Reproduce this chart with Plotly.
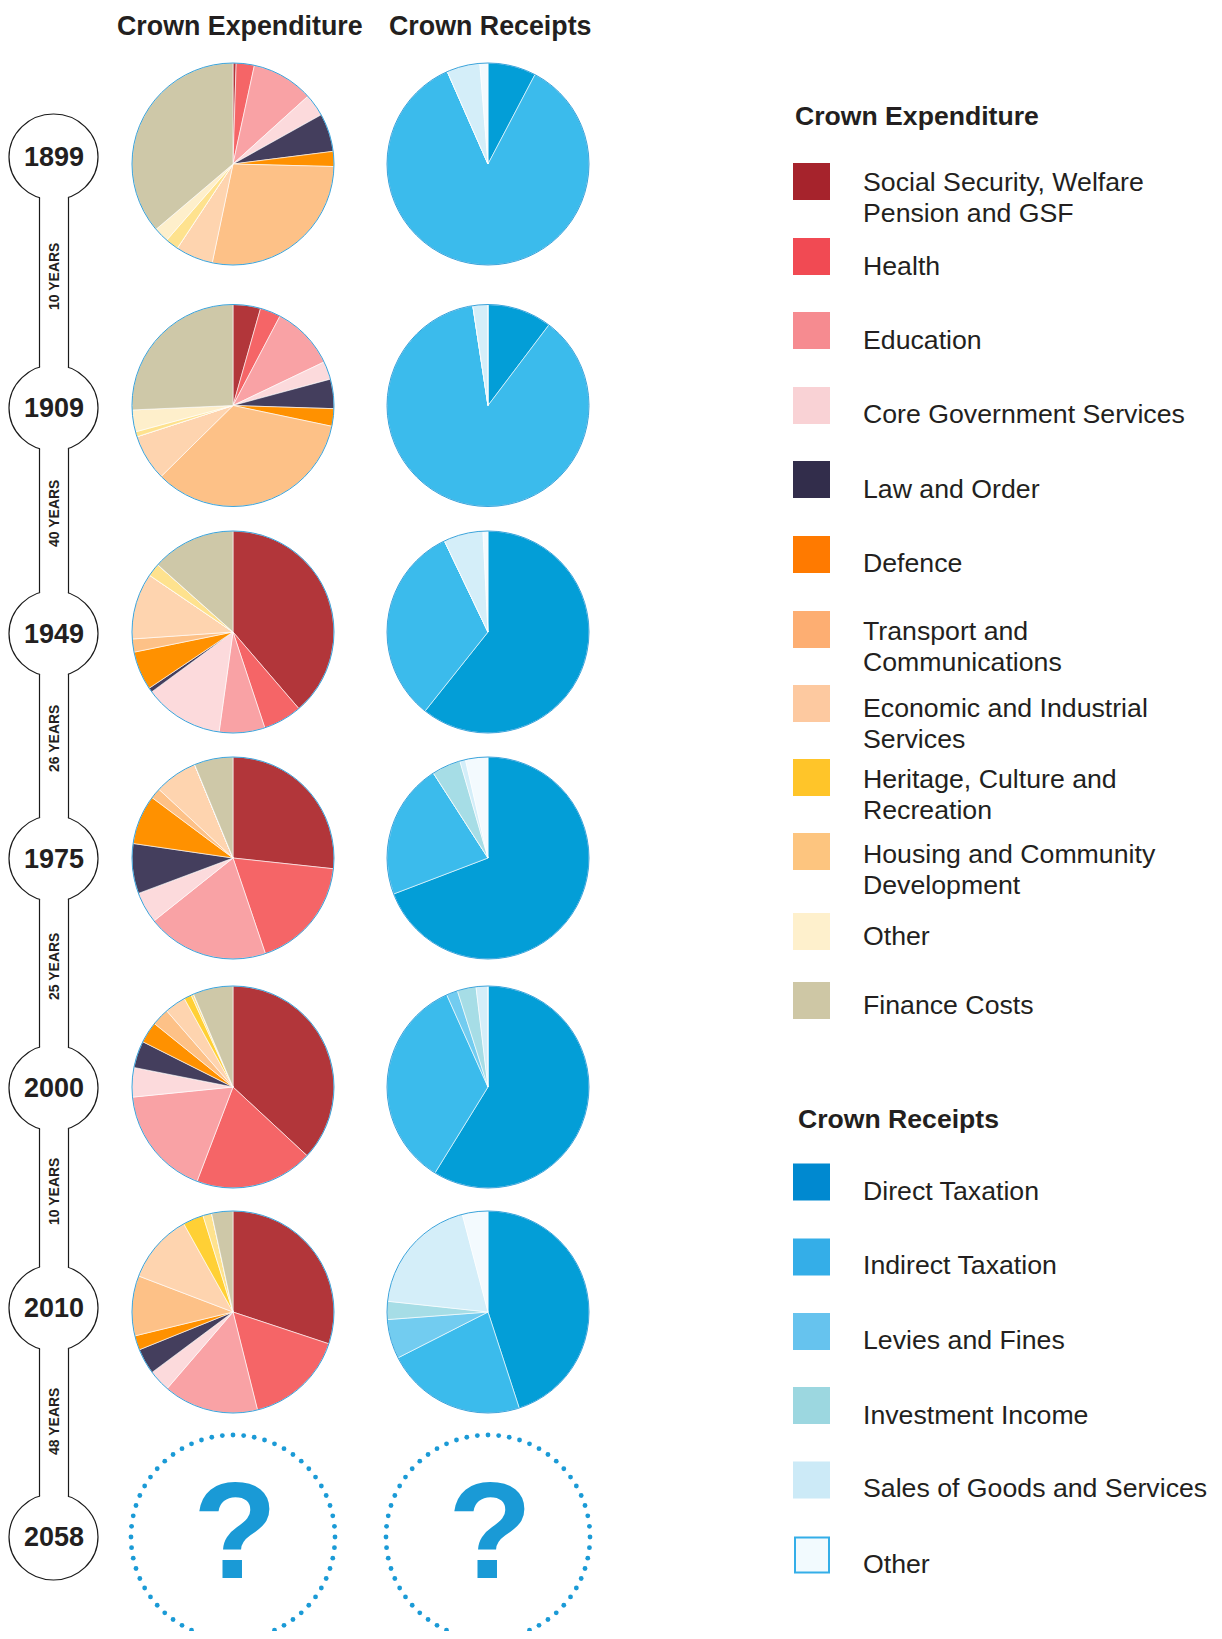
import math
import plotly.graph_objects as go

# ---------------- data ----------------
years = ["1899", "1909", "1949", "1975", "2000", "2010"]
future_year = "2058"
intervals = ["10 YEARS", "40 YEARS", "26 YEARS", "25 YEARS", "10 YEARS", "48 YEARS"]

exp_categories = [
    "Social Security, Welfare<br>Pension and GSF", "Health", "Education",
    "Core Government Services", "Law and Order", "Defence",
    "Transport and<br>Communications", "Economic and Industrial<br>Services",
    "Heritage, Culture and<br>Recreation", "Housing and Community<br>Development",
    "Other", "Finance Costs",
]
rec_categories = [
    "Direct Taxation", "Indirect Taxation", "Levies and Fines",
    "Investment Income", "Sales of Goods and Services", "Other",
]

# expenditure shares (%) in category order
exp_1899 = [0.5, 2.9, 9.9, 3.6, 6.1, 2.4, 27.9, 6.0, 0.0, 2.1, 2.4, 36.2]
exp_1909 = [4.4, 3.3, 10.2, 2.9, 4.7, 2.8, 34.3, 7.4, 0.0, 0.8, 3.5, 25.7]
exp_1949 = [38.7, 6.2, 7.3, 12.7, 0.7, 6.2, 2.1, 10.6, 0.0, 2.1, 0.0, 13.4]
exp_1975 = [26.7, 18.1, 19.5, 5.0, 8.0, 7.9, 1.7, 6.9, 0.0, 0.0, 0.0, 6.2]
exp_2000 = [36.9, 18.9, 17.6, 4.7, 4.3, 3.4, 2.8, 3.4, 1.2, 0.4, 0.0, 6.4]
exp_2010 = [30.1, 16.0, 15.2, 3.5, 4.1, 2.3, 9.6, 11.1, 3.3, 1.4, 0.0, 3.4]

# receipts shares (%) in category order
rec_1899 = [7.7, 85.7, 0.0, 0.0, 5.3, 1.3]
rec_1909 = [10.3, 87.3, 0.0, 0.0, 2.4, 0.0]
rec_1949 = [60.7, 32.2, 0.0, 0.0, 6.3, 0.8]
rec_1975 = [69.2, 21.7, 0.0, 4.6, 0.9, 3.6]
rec_2000 = [58.8, 34.5, 1.8, 3.0, 1.9, 0.0]
rec_2010 = [45.0, 22.5, 6.3, 2.9, 19.2, 4.1]

exp_values = [exp_1899, exp_1909, exp_1949, exp_1975, exp_2000, exp_2010]
rec_values = [rec_1899, rec_1909, rec_1949, rec_1975, rec_2000, rec_2010]

# ---------------- styles ----------------
exp_pie_colors = ["#B2363A", "#F56567", "#F9A2A5", "#FCDADC", "#443E5D", "#FF9100",
                  "#FDC187", "#FED4AF", "#FFD035", "#FEE28E", "#FEEFCB", "#CEC8A8"]
exp_legend_colors = ["#A6232C", "#F14A53", "#F68B90", "#F9D2D5", "#322D4B", "#FF7A00",
                     "#FDAE72", "#FDC9A0", "#FFC529", "#FDC57F", "#FEF0CC", "#CEC7A5"]
rec_pie_colors = ["#039ED7", "#3BBBEC", "#72CCF0", "#A6DDE6", "#D4EEF9", "#F3FAFE"]
rec_legend_colors = ["#0089D0", "#34AEE8", "#66C3EE", "#9CD7E0", "#CCEAF7", "#F2FAFE"]

TXT = "#231F20"
BLUE = "#1A9AD6"
FONT = "Liberation Sans, Arial, Helvetica, sans-serif"

W, H = 1222, 1639
OFF = 8                      # browser body margin
FW, FH = W - 2 * OFF, H - 2 * OFF

R = 101
exp_x, rec_x = 233, 488
row_y = [164, 405.5, 632, 858, 1087, 1312]
future_y = 1537

tl_x, tl_rx, tl_ry = 53.5, 44.5, 43
year_y = [157, 408, 633.5, 858.5, 1088, 1308, 1537]
interval_y = [277, 514, 739, 967, 1192, 1422]
bar_x0, bar_x1 = 39.5, 68.5


def dom(cx, cy, r):
    return dict(
        x=[(cx - r - OFF) / FW, (cx + r - OFF) / FW],
        y=[1 - (cy + r - OFF) / FH, 1 - (cy - r - OFF) / FH],
    )


fig = go.Figure()
shapes = []
annotations = []

# pies
for i, yr in enumerate(years):
    fig.add_trace(go.Pie(
        labels=exp_categories, values=exp_values[i], sort=False, direction="clockwise",
        rotation=0, textinfo="none", marker=dict(colors=exp_pie_colors, line=dict(color="white", width=0.6)),
        domain=dom(exp_x, row_y[i], R), showlegend=False, name=f"Expenditure {yr}",
        hovertemplate="%{label}: %{value}%<extra></extra>",
    ))
    fig.add_trace(go.Pie(
        labels=rec_categories, values=rec_values[i], sort=False, direction="clockwise",
        rotation=0, textinfo="none", marker=dict(colors=rec_pie_colors, line=dict(color="white", width=0.6)),
        domain=dom(rec_x, row_y[i], R), showlegend=False, name=f"Receipts {yr}",
        hovertemplate="%{label}: %{value}%<extra></extra>",
    ))
    for cx in (exp_x, rec_x):
        shapes.append(dict(type="circle", xref="x", yref="y", x0=cx - R, x1=cx + R,
                           y0=row_y[i] - R, y1=row_y[i] + R, line=dict(color="#3AA3DB", width=1)))

# future dotted circles with question marks
n_dots = 60
for cx in (exp_x, rec_x):
    xs = [cx + (R + 1) * math.cos(2 * math.pi * k / n_dots) for k in range(n_dots)]
    ys = [future_y + (R + 1) * math.sin(2 * math.pi * k / n_dots) for k in range(n_dots)]
    fig.add_trace(go.Scatter(x=xs, y=ys, mode="markers", hoverinfo="skip", showlegend=False,
                             marker=dict(color=BLUE, size=4.8, line=dict(width=0))))
    annotations.append(dict(x=cx + 2, y=future_y - 7, xref="x", yref="y", text="<b>?</b>", showarrow=False,
                            font=dict(family=FONT, size=138, color=BLUE), xanchor="center", yanchor="middle"))

# timeline
for y in year_y:
    shapes.append(dict(type="circle", xref="x", yref="y", x0=tl_x - tl_rx, x1=tl_x + tl_rx,
                       y0=y - tl_ry, y1=y + tl_ry, line=dict(color="#1a1a1a", width=1.2), fillcolor="white"))
for a, b in zip(year_y[:-1], year_y[1:]):
    shapes.append(dict(type="rect", xref="x", yref="y", x0=bar_x0 + 0.6, x1=bar_x1 - 0.6,
                       y0=a, y1=b, line=dict(width=0), fillcolor="white"))
    for bx in (bar_x0, bar_x1):
        dy = tl_ry * math.sqrt(max(0.0, 1 - ((bx - tl_x) / tl_rx) ** 2))
        shapes.append(dict(type="line", xref="x", yref="y", x0=bx, x1=bx, y0=a + dy, y1=b - dy,
                           line=dict(color="#1a1a1a", width=1.2)))
for y, label in zip(year_y, years + [future_year]):
    annotations.append(dict(x=tl_x, y=y, xref="x", yref="y", text=f"<b>{label}</b>", showarrow=False,
                            font=dict(family=FONT, size=27, color=TXT), xanchor="center", yanchor="middle"))
for y, label in zip(interval_y, intervals):
    annotations.append(dict(x=(bar_x0 + bar_x1) / 2, y=y, xref="x", yref="y", text=f"<b>{label}</b>",
                            showarrow=False, textangle=-90,
                            font=dict(family=FONT, size=14, color=TXT), xanchor="center", yanchor="middle"))

# column titles (anchored to the top edge so the text box stays inside the page)
for cx, t in ((240, "Crown Expenditure"), (490, "Crown Receipts")):
    annotations.append(dict(x=cx, y=OFF + 0.5, xref="x", yref="y", text=f"<b>{t}</b>", showarrow=False,
                            font=dict(family=FONT, size=26.8, color=TXT), xanchor="center", yanchor="top"))

# legends
leg_sq_x, leg_txt_x = 793, 861
annotations.append(dict(x=leg_sq_x, y=116, xref="x", yref="y", text="<b>Crown Expenditure</b>", showarrow=False,
                        font=dict(family=FONT, size=26.6, color=TXT), xanchor="left", yanchor="middle"))
exp_sq_top = [163, 238, 312, 387, 461, 536, 611, 685, 759, 833, 913, 982]
exp_txt_y = [182, 266, 340, 414, 489, 563, 631, 708, 779, 854, 936, 1005]
for lab, col, top, ty in zip(exp_categories, exp_legend_colors, exp_sq_top, exp_txt_y):
    shapes.append(dict(type="rect", xref="x", yref="y", x0=leg_sq_x, x1=leg_sq_x + 37, y0=top, y1=top + 37,
                       line=dict(width=0), fillcolor=col))
    for j, line in enumerate(lab.split("<br>")):
        annotations.append(dict(x=leg_txt_x, y=ty + 31 * j, xref="x", yref="y", text=line, showarrow=False,
                                font=dict(family=FONT, size=26.7, color=TXT), xanchor="left", yanchor="middle"))

annotations.append(dict(x=796, y=1118.5, xref="x", yref="y", text="<b>Crown Receipts</b>", showarrow=False,
                        font=dict(family=FONT, size=26.6, color=TXT), xanchor="left", yanchor="middle"))
rec_sq_top = [1163.5, 1238.5, 1313, 1387, 1461.5, 1536.5]
rec_txt_y = [1190.5, 1265, 1340, 1414.5, 1487.5, 1564]
for k, (lab, col, top, ty) in enumerate(zip(rec_categories, rec_legend_colors, rec_sq_top, rec_txt_y)):
    last = k == len(rec_categories) - 1
    shapes.append(dict(type="rect", xref="x", yref="y", x0=leg_sq_x + (2 if last else 0),
                       x1=leg_sq_x + (36 if last else 37), y0=top + (1 if last else 0), y1=top + (36 if last else 37),
                       line=dict(width=2 if last else 0, color="#34AEE8"), fillcolor=col))
    annotations.append(dict(x=leg_txt_x, y=ty, xref="x", yref="y", text=lab, showarrow=False,
                            font=dict(family=FONT, size=26.7, color=TXT), xanchor="left", yanchor="middle"))

fig.update_layout(
    width=FW, height=FH, margin=dict(l=0, r=0, t=0, b=0, pad=0),
    paper_bgcolor="white", plot_bgcolor="white",
    xaxis=dict(range=[OFF, OFF + FW], visible=False, fixedrange=True),
    yaxis=dict(range=[OFF + FH, OFF], visible=False, fixedrange=True),
    shapes=shapes, annotations=annotations, showlegend=False,
)

fig.write_html("out.html")
